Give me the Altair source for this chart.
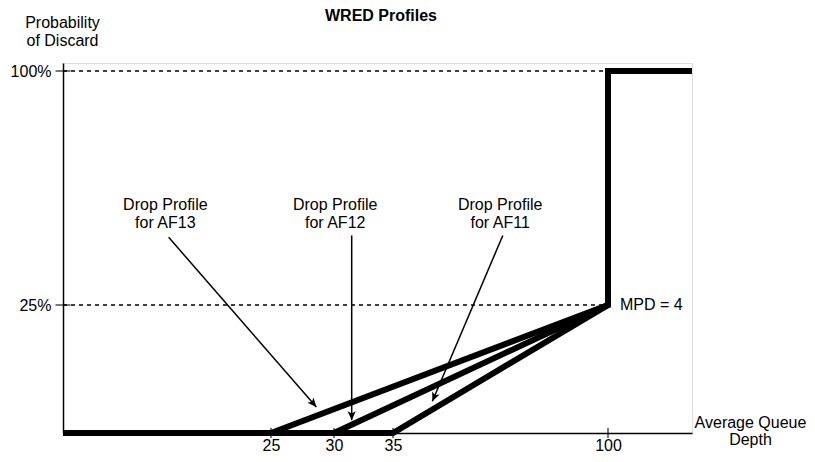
import math
import altair as alt
import numpy as np
import pandas as pd

FONT = "Liberation Sans"

# ---- schematic (piecewise) scales: data breakpoints and their drawn positions
queue_breaks = [0, 25, 30, 35, 100, 120]
queue_px = [0, 208, 271, 330, 545, 629]
prob_breaks = [0, 25, 100, 102.5]
prob_px = [370, 242, 8, 0]

# ---- axis ticks
x_ticks = [25, 30, 35, 100]
y_ticks = [25, 100]

# ---- WRED profiles
profiles = ["AF11", "AF12", "AF13"]
min_threshold = [35, 30, 25]
max_threshold = 100
mpd_prob = 25
max_prob = 100
queue_end = 120

# ---- dashed reference levels
ref_levels = [25, 100]

# ---- annotations (data coordinates)
label_text = ["Drop Profile\nfor AF13", "Drop Profile\nfor AF12", "Drop Profile\nfor AF11"]
label_q = [12.3, 30.1, 67.4]
label_prob = [55.4, 55.4, 55.4]
arrow_q0 = [12.7, 31.5, 68.2]
arrow_p0 = [46.7, 47.3, 47.3]
arrow_q1 = [28.6, 31.5, 46.9]
arrow_p1 = [5.1, 2.5, 6.2]
mpd_text = "MPD = 4"
chart_title = "WRED Profiles"

# ---------------------------------------------------------------
rows = []
for p, m in zip(profiles, min_threshold):
    pts = [(0, 0), (m, 0), (max_threshold, mpd_prob),
           (max_threshold, max_prob), (queue_end, max_prob)]
    for i, (qx, qy) in enumerate(pts):
        rows.append({"profile": p, "i": i, "q": qx, "prob": qy})
prof_df = pd.DataFrame(rows)

ref_df = pd.DataFrame({"level": ref_levels, "start": 0, "end": max_threshold})

def to_px(q, p):
    return (np.interp(q, queue_breaks, queue_px), np.interp(p, prob_breaks, prob_px))

angles = []
for a, b, c, d in zip(arrow_q0, arrow_p0, arrow_q1, arrow_p1):
    x0, y0 = to_px(a, b)
    x1, y1 = to_px(c, d)
    angles.append(math.degrees(math.atan2(-(x1 - x0), (y1 - y0))) % 360)

arrow_df = pd.DataFrame({"q0": arrow_q0, "p0": arrow_p0, "q1": arrow_q1,
                         "p1": arrow_p1, "ang": angles})
label_df = pd.DataFrame({"text": label_text, "q": label_q, "prob": label_prob})
mpd_df = pd.DataFrame({"q": [max_threshold], "prob": [mpd_prob], "text": [mpd_text]})
xt_df = pd.DataFrame({"q": x_ticks})
yt_df = pd.DataFrame({"prob": y_ticks})

xs = alt.Scale(domain=queue_breaks, range=queue_px, nice=False, zero=False)
ys = alt.Scale(domain=prob_breaks, range=prob_px, nice=False, zero=False)

x_axis = alt.Axis(
    values=x_ticks, ticks=False, grid=False, labelPadding=4,
    labelFontSize=16, labelColor="black", domainColor="black", domainWidth=1.5,
    title=["Average Queue", "Depth"], titleFontSize=16, titleFontWeight="normal",
    titleColor="black", titleX=687, titleY=-6, titleAlign="center",
    titleBaseline="alphabetic", titleLineHeight=17, titleAngle=0,
)
y_axis = alt.Axis(
    values=y_ticks, ticks=False, grid=False, labelPadding=12,
    labelExpr="datum.value + '%'",
    labelFontSize=16, labelColor="black", domainColor="black", domainWidth=1.5,
    title=["Probability", "of Discard"], titleFontSize=16, titleFontWeight="normal",
    titleColor="black", titleX=-1, titleY=-35.5, titleAlign="center",
    titleBaseline="alphabetic", titleLineHeight=17.5, titleAngle=0,
)

dashed = alt.Chart(ref_df).mark_rule(strokeDash=[4, 4], strokeWidth=1.5, color="black").encode(
    x=alt.X("start:Q", scale=xs, axis=x_axis),
    x2="end:Q",
    y=alt.Y("level:Q", scale=ys, axis=y_axis),
)

lines = alt.Chart(prof_df).mark_line(
    color="black", strokeWidth=6, strokeJoin="miter", strokeCap="butt"
).encode(x=alt.X("q:Q", scale=xs, axis=x_axis), y=alt.Y("prob:Q", scale=ys, axis=y_axis),
         detail="profile:N", order="i:Q")

xticks = alt.Chart(xt_df).mark_tick(orient="vertical", size=10, thickness=1.5, color="black").encode(
    x=alt.X("q:Q", scale=xs, axis=x_axis), y=alt.datum(0, scale=ys)
)
yticks = alt.Chart(yt_df).mark_tick(orient="horizontal", size=15, thickness=1.5, color="black").encode(
    y=alt.Y("prob:Q", scale=ys, axis=y_axis), x=alt.datum(0, scale=xs)
)

arrows = alt.Chart(arrow_df).mark_rule(color="black", strokeWidth=1.5).encode(
    x=alt.X("q0:Q", scale=xs, axis=x_axis), y=alt.Y("p0:Q", scale=ys, axis=y_axis),
    x2="q1:Q", y2="p1:Q"
)
heads = alt.Chart(arrow_df).mark_point(
    shape="M0,0 L-0.45,-1 L0,-0.75 L0.45,-1 Z", filled=True, color="black",
    size=324, opacity=1, strokeWidth=0
).encode(x=alt.X("q1:Q", scale=xs, axis=x_axis), y=alt.Y("p1:Q", scale=ys, axis=y_axis),
         angle=alt.Angle("ang:Q", scale=None))

labels = alt.Chart(label_df).mark_text(
    fontSize=16, lineBreak="\n", lineHeight=17.7, align="center",
    baseline="alphabetic", color="black", font=FONT
).encode(x=alt.X("q:Q", scale=xs, axis=x_axis), y=alt.Y("prob:Q", scale=ys, axis=y_axis),
         text="text:N")

mpd = alt.Chart(mpd_df).mark_text(
    fontSize=16, align="left", baseline="middle", dx=12, color="black", font=FONT
).encode(x=alt.X("q:Q", scale=xs, axis=x_axis), y=alt.Y("prob:Q", scale=ys, axis=y_axis),
         text="text:N")

title = alt.Chart(pd.DataFrame({"t": [chart_title]})).mark_text(
    fontSize=16, fontWeight="bold", align="center", baseline="alphabetic",
    color="black", font=FONT
).encode(x=alt.value(318), y=alt.value(-42.5), text="t:N")

chart = alt.layer(dashed, lines, xticks, yticks, arrows, heads, labels, mpd, title).properties(
    width=629, height=370,
    padding={"left": 55, "top": 55, "right": 115, "bottom": 21},
    autosize=alt.AutoSizeParams(type="none"),
).configure_view(stroke=None).configure(
    font=FONT, background="white"
).configure_axis(labelFont=FONT, titleFont=FONT, labelFontSize=16, titleFontSize=16)

chart.save("out.html", embed_options={"renderer": "svg", "actions": False})
